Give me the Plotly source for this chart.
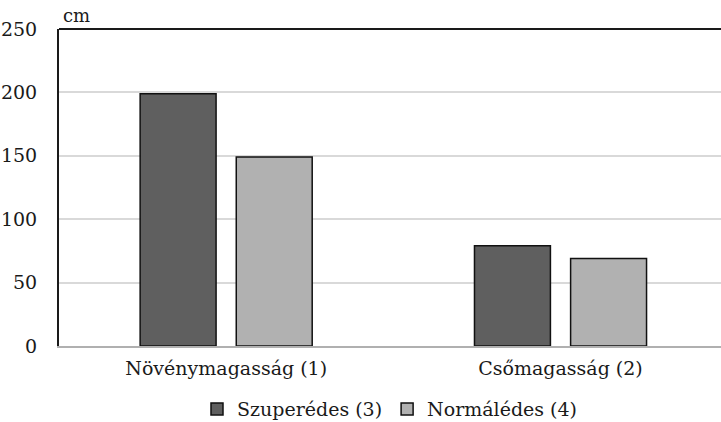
import plotly.graph_objects as go

categories = ["Növénymagasság (1)", "Csőmagasság (2)"]
series_names = ["Szuperédes (3)", "Normálédes (4)"]
szuperedes = [199, 79]
normaledes = [149, 69]
y_ticks = [0, 50, 100, 150, 200, 250]

FONT = "DejaVu Serif"
SIZE = 19

fig = go.Figure()
fig.add_trace(go.Bar(
    x=categories, y=szuperedes, name=series_names[0],
    marker=dict(color="#5f5f5f", line=dict(color="#111111", width=1.5)),
))
fig.add_trace(go.Bar(
    x=categories, y=normaledes, name=series_names[1],
    marker=dict(color="#b1b1b1", line=dict(color="#111111", width=1.5)),
))

fig.update_layout(
    width=721, height=422,
    margin=dict(l=59, r=0, t=29, b=76, autoexpand=False),
    plot_bgcolor="white", paper_bgcolor="white",
    font=dict(family=FONT, size=SIZE, color="#1a1a1a"),
    barmode="group", bargap=0.425, bargroupgap=0.21,
    showlegend=True,
    legend=dict(orientation="h", x=0.5, xanchor="center", y=-0.139, yanchor="top",
                bgcolor="rgba(0,0,0,0)", font=dict(family=FONT, size=SIZE),
                itemwidth=30, traceorder="normal"),
    xaxis=dict(range=[-0.5, 1.48], showgrid=False, showline=True,
               linecolor="#b0b0b0", linewidth=2, ticks="", ticklabelstandoff=4,
               tickfont=dict(family=FONT, size=SIZE)),
    yaxis=dict(range=[0, 250], tickvals=y_ticks, showgrid=True,
               gridcolor="#d9d9d9", gridwidth=1.5, zeroline=False,
               showline=True, linecolor="#1a1a1a", linewidth=2,
               ticks="", ticklabelstandoff=16,
               tickfont=dict(family=FONT, size=SIZE)),
)

# top border of the plot area
fig.add_shape(type="line", xref="paper", yref="paper", x0=0, x1=1, y0=1, y1=1,
              line=dict(color="#1a1a1a", width=2))

fig.add_annotation(text="cm", xref="paper", yref="paper", x=0.003, y=1.0,
                   xanchor="left", yanchor="bottom", yshift=1, showarrow=False,
                   font=dict(family=FONT, size=18))

fig.write_html("out.html")
